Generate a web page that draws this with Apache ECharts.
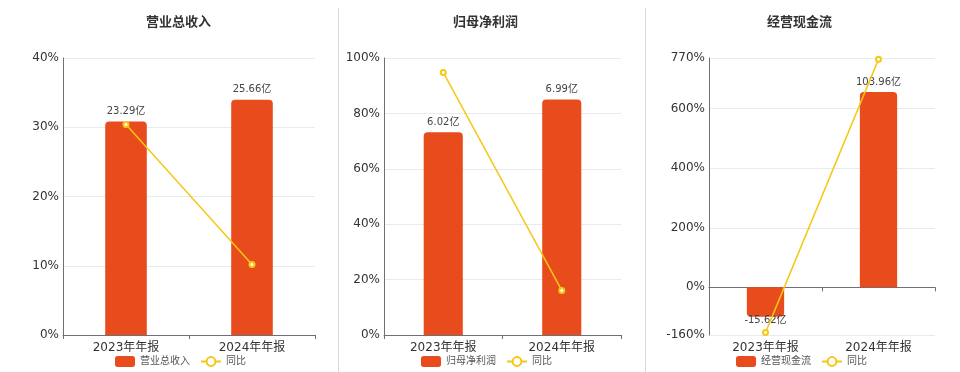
<!DOCTYPE html>
<html>
<head>
<meta charset="utf-8">
<script src="https://cdn.jsdelivr.net/npm/echarts@6/dist/echarts.min.js"></script>
<style>
html,body{margin:0;padding:0;background:#fff;}
#main{width:960px;height:372px;}
</style>
</head>
<body>
<div id="main"></div>
<script>
// ---- data ----
const categories = ['2023年年报', '2024年年报'];
const panelTitles = ['营业总收入', '归母净利润', '经营现金流'];
const revenue = [23.29, 25.66];
const revenueYoY = [30.4, 10.18];
const netProfit = [6.02, 6.99];
const netProfitYoY = [94.8, 16.11];
const cashFlow = [-15.62, 103.96];
const cashFlowYoY = [-152, 765.5];
const yoyName = '同比';

// percent axes ranges
const pctMin = [0, 0, -160];
const pctMax = [40, 100, 770];
const pctInterval = [10, 20, null];
// hidden bar axes ranges (aligned on zero)
const barMin = [0, 0, -25.35];
const barMax = [30.2, 8.22, 122];

const barValues = [revenue, netProfit, cashFlow];
const yoyValues = [revenueYoY, netProfitYoY, cashFlowYoY];

// ---- layout ----
const FONT = "'DejaVu Sans', 'Noto Sans CJK SC', sans-serif";
const grids = [
  {left: 63, width: 252, top: 58, height: 277},
  {left: 384, width: 237, top: 58, height: 277},
  {left: 709, width: 226, top: 58, height: 277}
];
const titleLeft = [141, 448, 762];
const legendLeft = [110, 416, 731];
const BAR_COLOR = '#E84C1C';
const LINE_COLOR = '#F5C816';

const option = {
  animation: false,
  backgroundColor: '#fff',
  textStyle: {fontFamily: FONT},
  title: panelTitles.map((t, i) => ({
    text: t, left: titleLeft[i], top: 11,
    textStyle: {fontSize: 13, fontWeight: 'bold', color: '#333', fontFamily: FONT}
  })),
  legend: panelTitles.map((t, i) => ({
    data: [t, yoyName], left: legendLeft[i], top: 351,
    itemWidth: 20, itemHeight: 11, itemGap: 10,
    textStyle: {fontSize: 10, color: '#555', fontFamily: FONT}
  })),
  grid: grids.map(g => Object.assign({containLabel: false}, g)),
  xAxis: [],
  yAxis: [],
  series: [],
  graphic: [338.5, 645.5].map(x => ({
    type: 'line', shape: {x1: x, y1: 8, x2: x, y2: 372},
    style: {stroke: '#d9d9d9', lineWidth: 1}, silent: true
  }))
};

for (let i = 0; i < 3; i++) {
  option.xAxis.push({
    type: 'category', gridIndex: i, data: categories,
    axisLine: {show: true, onZero: true, lineStyle: {color: '#6E7079'}},
    axisTick: {show: true, length: 4, lineStyle: {color: '#6E7079'}},
    axisLabel: {show: false},
    splitLine: {show: false}
  });
  option.xAxis.push({
    type: 'category', gridIndex: i, data: categories, position: 'bottom',
    axisLine: {show: false, onZero: false},
    axisTick: {show: false},
    axisLabel: {show: true, fontSize: 12, color: '#333', margin: 7, fontFamily: FONT},
    splitLine: {show: false}
  });
  const pctAxis = {
    type: 'value', gridIndex: i, min: pctMin[i], max: pctMax[i],
    axisLine: {show: true, lineStyle: {color: '#6E7079'}},
    axisTick: {show: false},
    axisLabel: {formatter: '{value}%', fontSize: 12, color: '#333', margin: 4, fontFamily: FONT},
    splitLine: {show: true, lineStyle: {color: '#E6EBF3'}}
  };
  if (pctInterval[i]) pctAxis.interval = pctInterval[i];
  option.yAxis.push(pctAxis);
  option.yAxis.push({
    type: 'value', gridIndex: i, min: barMin[i], max: barMax[i], show: false,
    splitLine: {show: false}
  });

  option.series.push({
    name: panelTitles[i], type: 'bar', xAxisIndex: 2 * i, yAxisIndex: 2 * i + 1,
    barWidth: '33%',
    itemStyle: {color: BAR_COLOR},
    data: barValues[i].map(v => ({
      value: v,
      itemStyle: {borderRadius: v >= 0 ? [4, 4, 0, 0] : [0, 0, 4, 4]},
      label: {
        show: true, position: v >= 0 ? 'top' : 'bottom', distance: v >= 0 ? 5 : -1,
        formatter: p => p.value + '亿', fontSize: 10, color: '#444', fontFamily: FONT
      }
    })),
    z: 2
  });
  option.series.push({
    name: yoyName, type: 'line', xAxisIndex: 2 * i, yAxisIndex: 2 * i,
    data: yoyValues[i],
    symbol: 'emptyCircle', symbolSize: 5,
    lineStyle: {color: LINE_COLOR, width: 1.5},
    itemStyle: {color: LINE_COLOR},
    z: 3
  });
}

const chart = echarts.init(document.getElementById('main'), null, {renderer: 'canvas'});
chart.setOption(option);
</script>
</body>
</html>
